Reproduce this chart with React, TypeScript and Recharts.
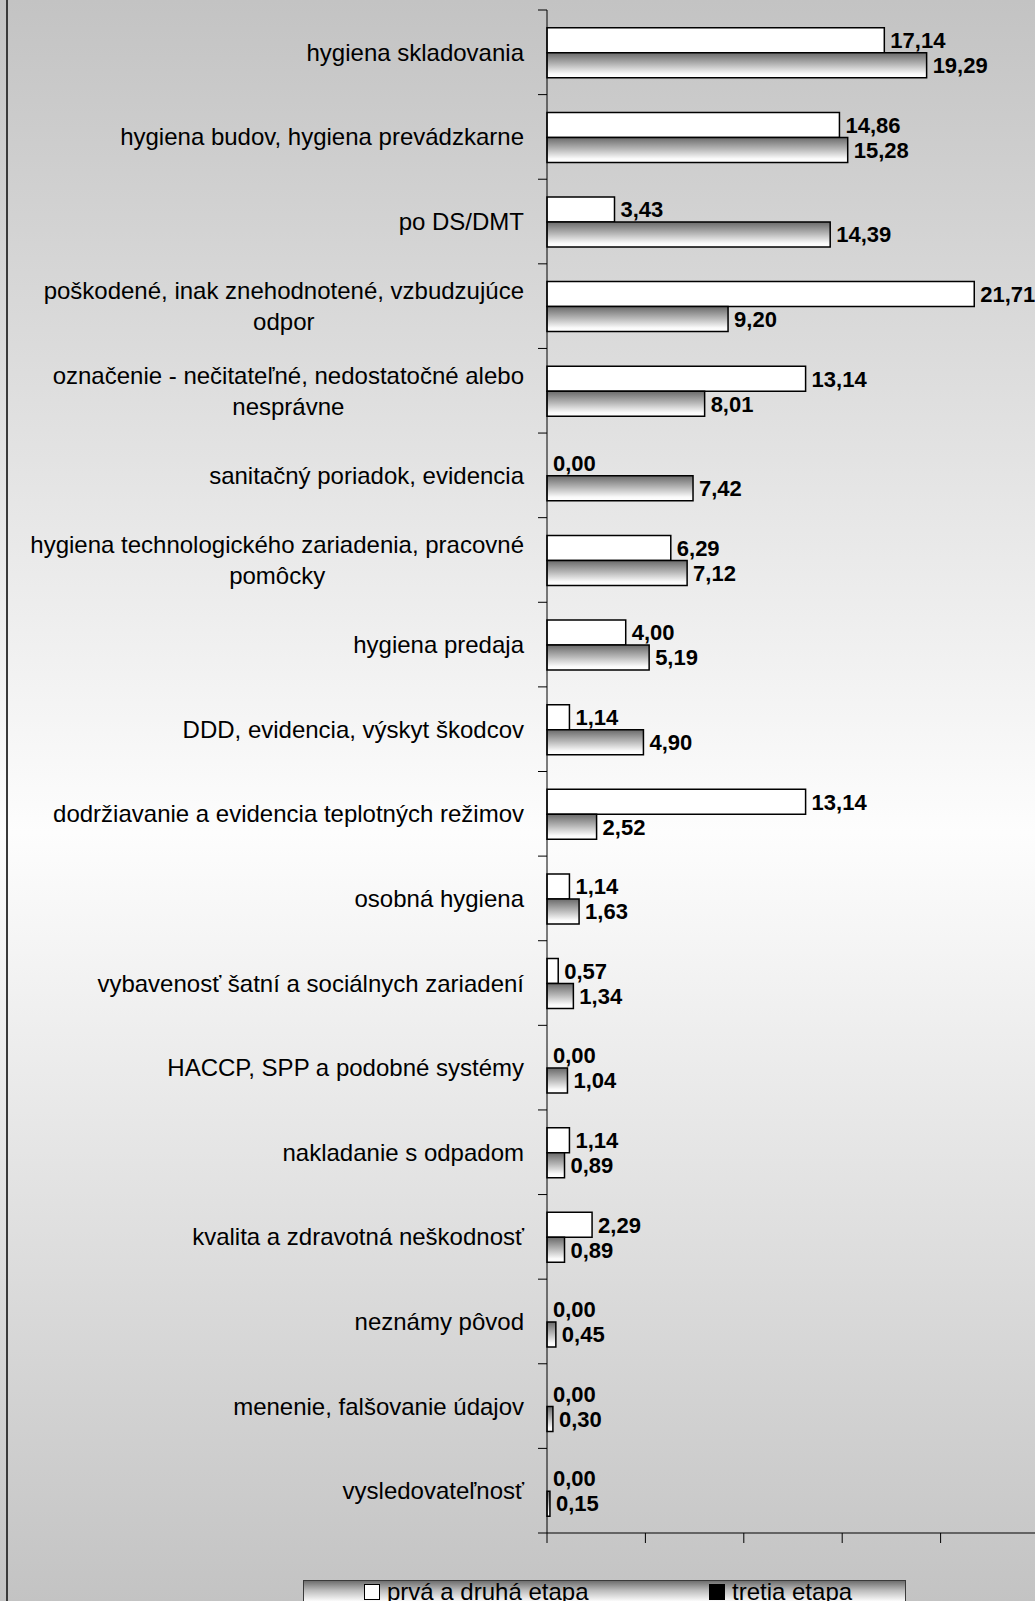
import React from 'react';
import { BarChart, Bar, XAxis, YAxis, LabelList, Legend, Rectangle } from 'recharts';

const CATEGORIES = [
  'hygiena skladovania',
  'hygiena budov, hygiena prevádzkarne',
  'po DS/DMT',
  'poškodené, inak znehodnotené, vzbudzujúce\nodpor',
  'označenie - nečitateľné, nedostatočné alebo\nnesprávne',
  'sanitačný poriadok, evidencia',
  'hygiena technologického zariadenia, pracovné\npomôcky',
  'hygiena predaja',
  'DDD, evidencia, výskyt škodcov',
  'dodržiavanie a evidencia teplotných režimov',
  'osobná hygiena',
  'vybavenosť šatní a sociálnych zariadení',
  'HACCP, SPP a podobné systémy',
  'nakladanie s odpadom',
  'kvalita a zdravotná neškodnosť',
  'neznámy pôvod',
  'menenie, falšovanie údajov',
  'vysledovateľnosť',
];

const SERIES_1 = [17.14, 14.86, 3.43, 21.71, 13.14, 0.0, 6.29, 4.0, 1.14, 13.14, 1.14, 0.57, 0.0, 1.14, 2.29, 0.0, 0.0, 0.0];
const SERIES_2 = [19.29, 15.28, 14.39, 9.2, 8.01, 7.42, 7.12, 5.19, 4.9, 2.52, 1.63, 1.34, 1.04, 0.89, 0.89, 0.45, 0.3, 0.15];
const SERIES_NAMES = ['prvá a druhá etapa', 'tretia etapa'];
const LEGEND_MARKER_FILLS = ['#ffffff', '#000000'];
const X_TICKS = [0, 5, 10, 15, 20, 25];

const data = CATEGORIES.map((name, i) => ({ name, s1: SERIES_1[i], s2: SERIES_2[i] }));

const FONT = '"Liberation Sans", Arial, sans-serif';
const CHART_W = 1060;
const CHART_H = 1601;
const MARGIN = { top: 10, right: 21, bottom: 48, left: 0 };
const Y_AXIS_W = 547;
const X_AXIS_H = 20;
const TICK_SIZE = 9;
const TICK_MARGIN = 14;
const LABEL_FONT = 24;
const LINE_H = 30.5;
const PLOT_H = CHART_H - MARGIN.top - MARGIN.bottom - X_AXIS_H;
const BAND = PLOT_H / CATEGORIES.length;

let measureCtx: CanvasRenderingContext2D | null = null;
function measure(text: string): number {
  if (!measureCtx) {
    const c = document.createElement('canvas');
    measureCtx = c.getContext('2d');
  }
  if (measureCtx) {
    measureCtx.font = `${LABEL_FONT}px "Liberation Sans"`;
    return measureCtx.measureText(text).width;
  }
  return text.length * LABEL_FONT * 0.5;
}

const fmt = (v: any) => Number(v).toFixed(2).replace('.', ',');

function CategoryTick(props: any) {
  const { x, y, payload, index } = props;
  const axisX = x + TICK_SIZE + TICK_MARGIN;
  const half = payload && typeof payload.offset === 'number' && payload.offset > 0 ? payload.offset : BAND / 2;
  const lines = String(payload.value).split('\n');
  const isLast = index === CATEGORIES.length - 1;
  let textEls: React.ReactNode;
  if (lines.length === 1) {
    textEls = (
      <text x={x} y={y} textAnchor="end" dominantBaseline="central" fontFamily={FONT} fontSize={LABEL_FONT} fill="#000">
        {lines[0]}
      </text>
    );
  } else {
    const maxW = Math.max(...lines.map(measure));
    const cx = x - maxW / 2;
    const y0 = y - ((lines.length - 1) * LINE_H) / 2;
    textEls = lines.map((l, i) => (
      <text key={i} x={cx} y={y0 + i * LINE_H} textAnchor="middle" dominantBaseline="central" fontFamily={FONT} fontSize={LABEL_FONT} fill="#000">
        {l}
      </text>
    ));
  }
  return (
    <g>
      <line x1={axisX - TICK_SIZE} x2={axisX} y1={y - half} y2={y - half} stroke="#000" strokeWidth={1} />
      {isLast && <line x1={axisX - TICK_SIZE} x2={axisX} y1={y + half} y2={y + half} stroke="#000" strokeWidth={1} />}
      {textEls}
    </g>
  );
}

const EmptyTick = () => <g />;

const BarShape = (props: any) => {
  if (!props.width || Math.abs(props.width) < 0.5) return <g />;
  return <Rectangle {...props} />;
};

function LegendItem({ left, fill, name }: { left: number; fill: string; name: string }) {
  return (
    <span style={{ position: 'absolute', left, top: -3, display: 'flex', alignItems: 'baseline' }}>
      <span
        style={{
          display: 'inline-block',
          boxSizing: 'border-box',
          width: 16,
          height: 16,
          border: '1.5px solid #000',
          background: fill,
          marginRight: 7,
        }}
      />
      <span>{name}</span>
    </span>
  );
}

function LegendBox() {
  return (
    <div
      style={{
        boxSizing: 'border-box',
        width: 603,
        height: 34,
        border: '1px solid #3a3a3a',
        background: 'linear-gradient(to bottom, #6e6e6e 0%, #bdbdbd 30%, #ffffff 65%, #ffffff 100%)',
        position: 'relative',
        fontFamily: FONT,
        fontSize: 24,
        lineHeight: '28px',
        color: '#000',
        whiteSpace: 'nowrap',
      }}
    >
      <LegendItem left={60} fill={LEGEND_MARKER_FILLS[0]} name={SERIES_NAMES[0]} />
      <LegendItem left={405} fill={LEGEND_MARKER_FILLS[1]} name={SERIES_NAMES[1]} />
    </div>
  );
}

export default function App() {
  return (
    <div
      style={{
        position: 'fixed',
        left: 0,
        top: 0,
        width: 1035,
        height: 1601,
        overflow: 'hidden',
        background: 'linear-gradient(to bottom, #c3c3c3 0%, #fdfdfd 52%, #c3c3c3 100%)',
        fontFamily: FONT,
      }}
    >
      <div style={{ position: 'absolute', left: 6, top: 0, width: 2, height: 1601, background: '#3a3a3a' }} />
      <div style={{ position: 'absolute', left: 0, top: 0 }}>
        <BarChart
          width={CHART_W}
          height={CHART_H}
          data={data}
          layout="vertical"
          margin={MARGIN}
          barCategoryGap="21%"
          barGap={0}
        >
          <defs>
            <linearGradient id="gradBar" x1="0" y1="0" x2="0" y2="1">
              <stop offset="0%" stopColor="#6a6a6a" />
              <stop offset="45%" stopColor="#b4b4b4" />
              <stop offset="85%" stopColor="#fafafa" />
              <stop offset="100%" stopColor="#ffffff" />
            </linearGradient>
          </defs>
          <XAxis
            xAxisId="top"
            orientation="top"
            type="number"
            domain={[0, 25]}
            ticks={X_TICKS}
            height={0}
            tick={EmptyTick}
            tickLine={false}
            axisLine={{ stroke: '#8a8a8a', strokeWidth: 1 }}
          />
          <XAxis
            xAxisId="main"
            type="number"
            domain={[0, 25]}
            ticks={X_TICKS}
            height={X_AXIS_H}
            tickSize={10}
            tick={EmptyTick}
            tickLine={{ stroke: '#000' }}
            axisLine={{ stroke: '#000', strokeWidth: 1 }}
          />
          <YAxis
            type="category"
            dataKey="name"
            width={Y_AXIS_W}
            interval={0}
            tickSize={TICK_SIZE}
            tickMargin={TICK_MARGIN}
            tickLine={false}
            tick={CategoryTick}
            axisLine={{ stroke: '#000', strokeWidth: 1 }}
          />
          <Legend
            layout="horizontal"
            verticalAlign="middle"
            align="center"
            content={LegendBox}
            wrapperStyle={{ position: 'absolute', left: 303, top: 1580, width: 603, height: 34 }}
          />
          <Bar xAxisId="main" dataKey="s1" name={SERIES_NAMES[0]} fill="#ffffff" stroke="#000" strokeWidth={1.5} minPointSize={0.01} shape={BarShape} isAnimationActive={false}>
            <LabelList dataKey="s1" position="right" offset={6} formatter={fmt} fill="#000" fontSize={22} fontWeight="bold" fontFamily={FONT} />
          </Bar>
          <Bar xAxisId="main" dataKey="s2" name={SERIES_NAMES[1]} fill="url(#gradBar)" stroke="#000" strokeWidth={1.5} minPointSize={0.01} shape={BarShape} isAnimationActive={false}>
            <LabelList dataKey="s2" position="right" offset={6} formatter={fmt} fill="#000" fontSize={22} fontWeight="bold" fontFamily={FONT} />
          </Bar>
        </BarChart>
      </div>
    </div>
  );
}
